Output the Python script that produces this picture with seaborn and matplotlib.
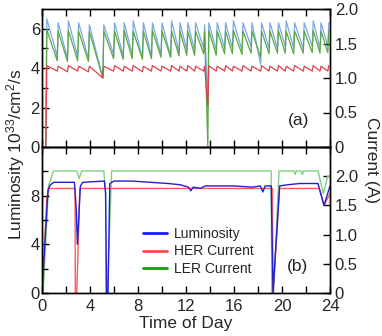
"""
KEKB-style luminosity / beam current over one day.
(a) top-up by periodic injection, (b) continuous injection.
"""

import numpy as np
import pandas as pd
import matplotlib
matplotlib.use("Agg")
import matplotlib.pyplot as plt
from matplotlib.lines import Line2D
from matplotlib.ticker import MultipleLocator, FixedLocator, FixedFormatter
import seaborn as sns

# ---- panel (a): injection times (h) and values just before / after each fill ----
a_fill_t = [0.4, 1.35, 2.2, 3.05, 3.95, 5.15, 6.05, 6.85, 7.6, 8.45, 9.2, 10.0,
            10.8, 11.5, 12.15, 12.8, 13.55, 13.9, 14.6, 15.3, 15.95, 16.75, 17.5,
            18.3, 19.0, 19.7, 20.35, 21.05, 21.85, 22.6, 23.25, 23.9]
lum_a_lo = [0.0, 4.6, 4.5, 4.6, 4.5, 3.5, 4.7, 4.6, 4.7, 4.5, 4.6, 4.7, 4.6, 4.8,
            4.9, 4.9, 5.0, 2.0, 4.9, 5.0, 5.0, 4.9, 5.1, 4.2, 5.0, 5.0, 5.1, 5.0,
            5.0, 5.1, 5.0, 5.1]
lum_a_hi = [6.5, 6.3, 6.4, 6.3, 6.2, 6.2, 6.3, 6.3, 6.4, 6.3, 6.3, 6.3, 6.4, 6.3,
            6.3, 6.3, 6.2, 6.3, 6.3, 6.3, 6.4, 6.3, 6.3, 6.3, 6.3, 6.3, 6.4, 6.3,
            6.3, 6.4, 6.3, 6.3]
ler_a_lo = [0.0, 1.25, 1.24, 1.25, 1.24, 1.0, 1.28, 1.27, 1.28, 1.27, 1.28, 1.3,
            1.3, 1.32, 1.33, 1.33, 1.35, 0.0, 1.33, 1.35, 1.35, 1.34, 1.36, 1.3,
            1.35, 1.36, 1.36, 1.35, 1.36, 1.37, 1.36, 1.37]
ler_a_hi = [1.7, 1.68, 1.69, 1.68, 1.67, 1.68, 1.68, 1.69, 1.68, 1.68, 1.69, 1.68,
            1.68, 1.68, 1.68, 1.68, 1.67, 1.69, 1.68, 1.68, 1.69, 1.68, 1.68, 1.68,
            1.68, 1.69, 1.68, 1.68, 1.68, 1.69, 1.68, 1.68]
her_a_lo = [0.0, 1.1, 1.09, 1.1, 1.09, 1.0, 1.1, 1.1, 1.1, 1.09, 1.1, 1.1, 1.1,
            1.1, 1.1, 1.1, 1.1, 0.6, 1.1, 1.1, 1.1, 1.1, 1.1, 1.1, 1.1, 1.1, 1.1,
            1.1, 1.1, 1.1, 1.1, 1.1]
her_a_hi = [1.18, 1.17, 1.18, 1.17, 1.17, 1.17, 1.18, 1.17, 1.18, 1.17, 1.18, 1.17,
            1.18, 1.17, 1.18, 1.17, 1.17, 1.18, 1.17, 1.18, 1.17, 1.18, 1.17, 1.18,
            1.17, 1.18, 1.17, 1.18, 1.17, 1.18, 1.17, 1.18]

# ---- panel (b): continuous injection, read point by point ----
lum_b_t = [0.0, 0.5, 0.7, 1.0, 2.7, 2.85, 2.95, 3.2, 3.4, 5.2, 5.3, 5.38, 5.5,
           5.65, 6.0, 7.5, 9.0, 10.5, 11.5, 12.2, 12.4, 12.6, 13.2, 13.6, 14.5,
           16.0, 17.5, 18.2, 18.4, 18.6, 19.1, 19.25, 19.8, 20.5, 21.5, 22.5,
           23.0, 23.5, 24.0]
lum_b_v = [0.0, 8.5, 8.9, 9.1, 9.1, 7.0, 4.0, 8.8, 9.1, 9.2, 8.2, 0.0, 0.0,
           9.0, 9.2, 9.2, 9.1, 9.0, 8.9, 8.7, 8.4, 8.7, 8.6, 8.8, 8.8,
           8.8, 8.7, 8.8, 8.3, 8.8, 8.8, 0.0, 8.8, 8.9, 9.0, 9.0,
           9.0, 7.2, 8.8]
her_b_t = [0.0, 0.4, 0.6, 2.75, 2.78, 2.9, 3.15, 19.2, 19.25, 19.8, 23.1, 23.5, 24.0]
her_b_v = [0.0, 1.6, 1.79, 1.79, 0.0, 0.0, 1.79, 1.79, 0.0, 1.79, 1.79, 1.5, 1.7]
ler_b_t = [0.0, 0.1, 0.55, 0.7, 0.95, 2.9, 3.1, 3.3, 5.15, 5.3, 5.33, 5.45, 5.8,
           19.1, 19.15, 19.3, 19.75, 21.0, 21.1, 21.2, 21.6, 21.7, 21.8, 23.0,
           23.45, 23.8, 24.0]
ler_b_v = [0.0, 0.0, 1.85, 1.92, 2.09, 2.09, 1.96, 2.09, 2.09, 1.7, 0.0, 0.0, 2.09,
           2.09, 0.0, 0.0, 2.09, 2.09, 2.03, 2.09, 2.09, 2.03, 2.09, 2.09,
           1.7, 2.0, 2.0]

RAMP = 0.08  # injection rise time in hours


def sawtooth(fill_t, lo, hi):
    """Turn per-fill values into a vertex table for lineplot."""
    t, v = [], []
    for ti, l, h in zip(fill_t, lo, hi):
        t += [ti - RAMP, ti]
        v += [l, h]
    return pd.DataFrame({"t": t, "v": v})


def draw(ax, df, color, lw):
    sns.lineplot(data=df, x="t", y="v", ax=ax, color=color, lw=lw,
                 estimator=None, sort=False, legend=False)
    ax.set_xlabel("")
    ax.set_ylabel("")


sns.set_theme(style="ticks")
plt.rcParams["font.family"] = ["Liberation Sans", "DejaVu Sans"]
plt.rcParams["mathtext.fontset"] = "custom"
plt.rcParams["mathtext.rm"] = "Liberation Sans"
plt.rcParams["mathtext.it"] = "Liberation Sans"

fig = plt.figure(figsize=(3.82, 3.36), dpi=100)
W, H = 382, 336
ax_a = fig.add_axes([42 / W, 1 - 147 / H, 288 / W, 138 / H])
ax_b = fig.add_axes([42 / W, 1 - 293 / H, 288 / W, 146 / H])
ax_a2 = ax_a.twinx()
ax_b2 = ax_b.twinx()

# panel (a)
draw(ax_a, sawtooth(a_fill_t, lum_a_lo, lum_a_hi), "#7ba7e6", 0.9)
draw(ax_a2, sawtooth(a_fill_t, ler_a_lo, ler_a_hi), "#5aa845", 0.9)
draw(ax_a2, sawtooth(a_fill_t, her_a_lo, her_a_hi), "#e0404e", 0.9)

# panel (b)
draw(ax_b2, pd.DataFrame({"t": ler_b_t, "v": ler_b_v}), "#7fd07f", 1.0)
draw(ax_b2, pd.DataFrame({"t": her_b_t, "v": her_b_v}), "#ff5a5a", 1.0)
draw(ax_b, pd.DataFrame({"t": lum_b_t, "v": lum_b_v}), "#2020d0", 1.0)
ax_b.set_zorder(ax_b2.get_zorder() + 1)
ax_b.patch.set_visible(False)

for ax in (ax_a, ax_b, ax_a2, ax_b2):
    ax.set_xlim(0, 24)
    for s in ax.spines.values():
        s.set_linewidth(1.0)
        s.set_color("black")
        s.set_visible(True)

ax_a.set_ylim(0, 7)
ax_a2.set_ylim(0, 2.0)
ax_b.set_ylim(0, 12)
ax_b2.set_ylim(0, 2.5)

tick_kw = dict(direction="in", width=1.0, color="black", labelsize=12)
for ax in (ax_a, ax_b):
    ax.xaxis.set_major_locator(MultipleLocator(4))
    ax.xaxis.set_minor_locator(MultipleLocator(2))
    ax.tick_params(axis="x", which="both", top=True, bottom=True, **tick_kw)
    ax.tick_params(axis="x", which="major", length=5, pad=4)
    ax.tick_params(axis="x", which="minor", length=5)
    ax.tick_params(axis="y", which="both", left=True, right=False, **tick_kw)
    ax.tick_params(axis="y", which="major", length=5, pad=1.5)
    ax.tick_params(axis="y", which="minor", length=4)
ax_a.tick_params(axis="x", labelbottom=False)

ax_a.yaxis.set_major_locator(FixedLocator([0, 2, 4, 6]))
ax_a.yaxis.set_minor_locator(FixedLocator([1, 3, 5]))
ax_b.yaxis.set_major_locator(FixedLocator([0, 4, 8]))
ax_b.yaxis.set_minor_locator(FixedLocator([2, 6, 10]))

cur_ticks = [0, 0.5, 1.0, 1.5, 2.0]
cur_labels = ["0", "0.5", "1.0", "1.5", "2.0"]
for ax in (ax_a2, ax_b2):
    ax.yaxis.set_major_locator(FixedLocator(cur_ticks))
    ax.yaxis.set_major_formatter(FixedFormatter(cur_labels))
    ax.tick_params(axis="y", which="major", right=True, left=False,
                   length=5, pad=3.5, **tick_kw)
    ax.tick_params(axis="x", which="both", top=False, bottom=False)

ax_b.set_xlabel("Time of Day", fontsize=12.5, labelpad=2)
fig.text(16 / W, 1 - 154 / H, "Luminosity 10$^{33}$/cm$^{2}$/s", rotation=90,
         ha="center", va="center", fontsize=12.5)
fig.text(372 / W, 1 - 160 / H, "Current (A)", rotation=270,
         ha="center", va="center", fontsize=12.5)

ax_a.text(299 / W, 1 - 120 / H, "(a)", transform=fig.transFigure,
          ha="center", va="center", fontsize=12.5)
ax_b.text(298 / W, 1 - 267 / H, "(b)", transform=fig.transFigure,
          ha="center", va="center", fontsize=12.5)

handles = [Line2D([], [], color="#1a1aff", lw=2),
           Line2D([], [], color="#ff4a4a", lw=2),
           Line2D([], [], color="#10a010", lw=2)]
ax_b.legend(handles, ["Luminosity", "HER Current", "LER Current"],
            loc="upper left", bbox_to_anchor=(143 / W, 1 - 227 / H),
            bbox_transform=fig.transFigure, frameon=False, fontsize=10,
            handlelength=1.7, handletextpad=0.5, labelspacing=0.25,
            borderpad=0, borderaxespad=0)

fig.savefig("out.png", dpi=100)
